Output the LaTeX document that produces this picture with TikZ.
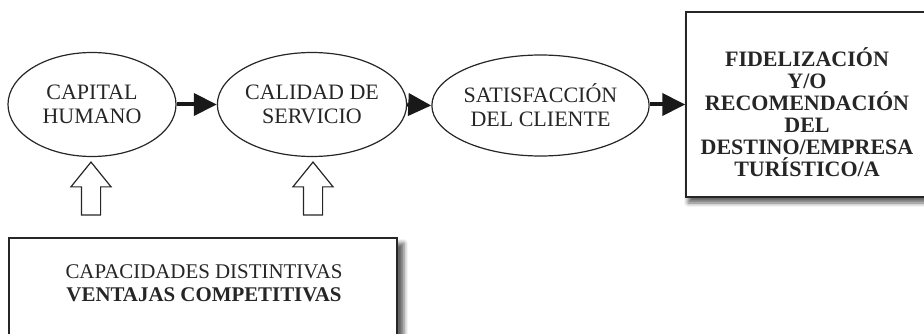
\documentclass[tikz,border=0pt]{standalone}
\usepackage{fontspec}
\setmainfont{Liberation Serif}
\usetikzlibrary{shapes.geometric,shapes.arrows,arrows.meta,shadows.blur}
\begin{document}
\begin{tikzpicture}[x=1pt,y=-1pt,
  oval/.style={ellipse, draw=black!85, line width=1.2pt, inner sep=0pt, align=center,
    text=black!85, font=\fontsize{22}{24}\selectfont},
  flow/.style={draw=black!90, line width=4pt, -{Triangle[length=23pt,width=22pt]}},
  uparrow/.style={single arrow, draw=black!85, line width=1.2pt, rotate=90, fill=white,
    inner xsep=0pt, inner ysep=9pt,
    minimum height=53pt, single arrow head extend=10.5pt,
    single arrow tip angle=78},
  shbox/.style={rectangle, draw=black!85, line width=1.5pt, fill=white, inner sep=0pt},
  txt/.style={align=center, text=black!85, inner sep=0pt}
]
\useasboundingbox (0,0) rectangle (924,334);
\clip (0,0) rectangle (924,334);

% ellipses
\node[oval, minimum width=168pt, minimum height=104pt] (cap) at (92,104.5) {CAPITAL\\HUMANO};
\node[oval, minimum width=170pt, minimum height=104pt] (cal) at (312,104.5) {CALIDAD DE\\SERVICIO};
\node[oval, minimum width=185pt, minimum height=101pt] (sat) at (540.5,105.5) {SATISFACCIÓN\\DEL CLIENTE};

% right box
\node[shbox, minimum width=244pt, minimum height=185pt,
  blur shadow={shadow xshift=2pt, shadow yshift=-6pt, shadow blur radius=4pt, shadow opacity=60}]
  (fid) at (808,104.5) {};
\node[txt, font=\bfseries\fontsize{22}{22}\selectfont] (fidtxt) at (807,112)
  {FIDELIZACIÓN\\Y/O\\RECOMENDACIÓN\\DEL\\DESTINO/EMPRESA\\TURÍSTICO/A};

% bottom box
\node[shbox, minimum width=388pt, minimum height=110pt,
  blur shadow={shadow xshift=7pt, shadow yshift=-5pt, shadow blur radius=4pt, shadow opacity=60}]
  (capd) at (203,293) {};
\node[txt, font=\fontsize{20.9}{23}\selectfont] (capdtxt) at (204,283)
  {CAPACIDADES DISTINTIVAS\\\textbf{VENTAJAS COMPETITIVAS}};

% connectors
\draw[flow] (cap.east) -- (cal.west);
\draw[flow] (cal.east) -- (sat.west);
\draw[flow] (sat.east |- fid.west) -- (fid.west);

% hollow up arrows
\node[uparrow] (up1) at (91,194.5) {};
\node[uparrow] (up2) at (313,194.5) {};
\end{tikzpicture}
\end{document}
